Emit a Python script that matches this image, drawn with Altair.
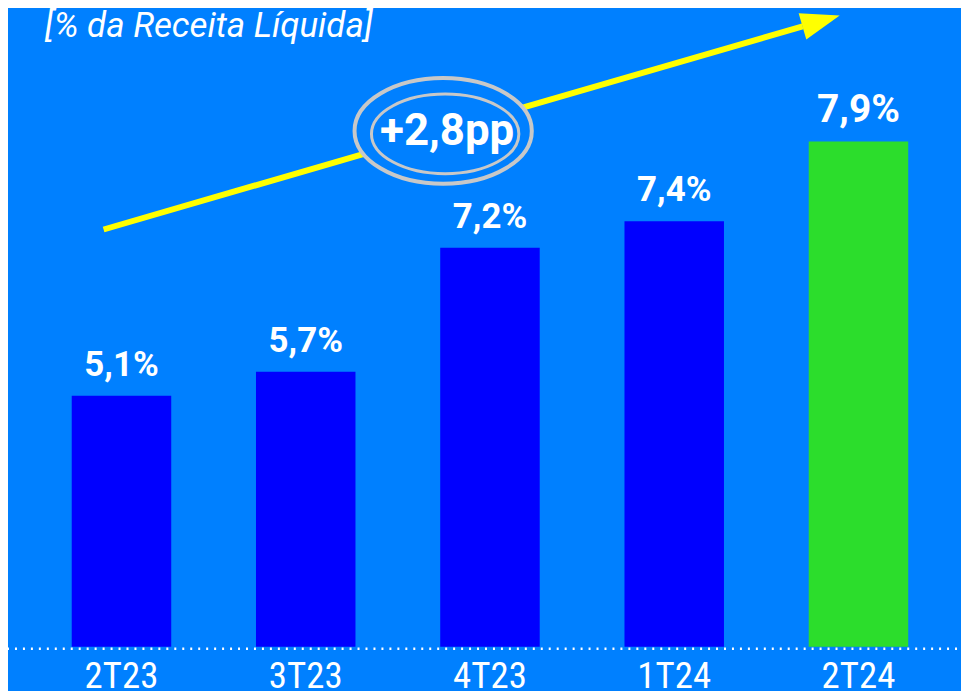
import altair as alt
import pandas as pd

# ---- data ----
periodos = ["2T23", "3T23", "4T23", "1T24", "2T24"]
valores = [5.1, 5.7, 7.2, 7.4, 7.9]
rotulos = [f"{v:.1f}".replace(".", ",") + "%" for v in valores]
titulo = "[% da Receita Líquida]"
variacao = "+2,8pp"
destaque = "2T24"

BG = "#0080FF"
BAR = "#0000FF"
GREEN = "#2CDD2C"
YELLOW = "#FFFF00"
GRAY = "#C8C8C8"

W, H = 957, 640
# the original drawing is not linear in value; a power scale follows its bar heights
Y_MIN, Y_MAX, Y_EXP = -7.488, 8.523, 5

df = pd.DataFrame({"periodo": periodos, "valor": valores, "rotulo": rotulos})

x = alt.X("periodo:N", sort=periodos, title=None,
          scale=alt.Scale(range=[64, 904], paddingInner=0.46, paddingOuter=0),
          axis=alt.Axis(labelAngle=0, domain=False, ticks=False, grid=False,
                        labelColor="white", labelFontSize=37,
                        labelFont="Liberation Sans Narrow, Roboto Condensed, DejaVu Sans Condensed, sans-serif",
                        labelFontWeight="normal", labelPadding=12))
y = alt.Y("valor:Q", axis=None,
          scale=alt.Scale(type="pow", exponent=Y_EXP, domain=[Y_MIN, Y_MAX], zero=False, nice=False))

is_hl = alt.datum.periodo == destaque

base = alt.Chart(df)

bars = base.mark_bar().encode(
    x=x, y=y, y2=alt.Y2(datum=Y_MIN),
    color=alt.condition(is_hl, alt.value(GREEN), alt.value(BAR)),
)

labels = base.mark_text(font="Roboto", fontWeight="bold", color="white",
                        baseline="alphabetic", dy=-20).encode(
    x=x, y=y, text="rotulo:N",
    size=alt.condition(is_hl, alt.value(39), alt.value(35)),
)

one = pd.DataFrame({"a": [0]})

baseline_rule = alt.Chart(one).mark_rule(color="white", strokeWidth=2.5, strokeDash=[2, 6]).encode(
    x=alt.value(-1), x2=alt.value(W), y=alt.value(H + 2)
)

arrow_line = alt.Chart(one).mark_rule(color=YELLOW, strokeWidth=6).encode(
    x=alt.value(96), y=alt.value(221), x2=alt.value(798), y2=alt.value(17)
)

arrow_head = alt.Chart(one).mark_point(
    shape="M1,0L-1,-0.7L-1,0.7Z", filled=True, color=YELLOW, opacity=1,
    size=1520, angle=343.6
).encode(x=alt.value(816.5), y=alt.value(11.5))

outer_ell = alt.Chart(one).mark_point(
    shape="M-1,0A1,0.596 0 1,1 1,0A1,0.596 0 1,1 -1,0Z",
    filled=False, fill=BG, fillOpacity=1, stroke=GRAY, strokeWidth=4, opacity=1,
    size=178 * 178
).encode(x=alt.value(437), y=alt.value(122))

inner_ell = alt.Chart(one).mark_point(
    shape="M-1,0A1,0.54 0 1,1 1,0A1,0.54 0 1,1 -1,0Z",
    filled=False, stroke=GRAY, strokeWidth=3, opacity=1,
    size=148 * 148
).encode(x=alt.value(439), y=alt.value(125))

var_text = alt.Chart(one).mark_text(
    text=variacao, font="Roboto", fontWeight="bold", fontSize=44, color="white",
    align="center", baseline="middle"
).encode(x=alt.value(441), y=alt.value(123))

title_text = alt.Chart(one).mark_text(
    text=titulo, font="Roboto", fontStyle="italic", fontSize=35, color="white",
    align="left", baseline="alphabetic"
).encode(x=alt.value(37), y=alt.value(28))

chart = alt.layer(
    bars, labels, baseline_rule, arrow_line, arrow_head, outer_ell, inner_ell, var_text, title_text
).properties(
    width=W, height=H, background=BG,
    padding={"left": 0, "top": 0, "right": 0, "bottom": 43},
    autosize=alt.AutoSizeParams(type="none"),
).configure_view(stroke=None)

chart.save("out.html", embed_options={"renderer": "svg", "actions": False})
